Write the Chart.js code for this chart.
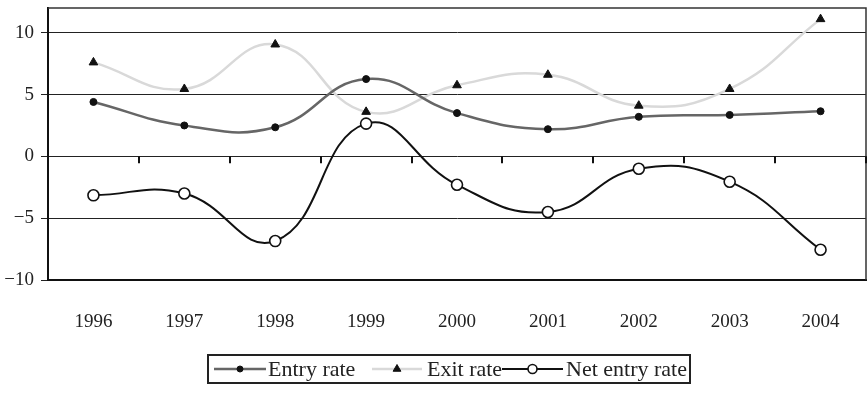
<!DOCTYPE html>
<html>
<head>
<meta charset="utf-8">
<script src="https://cdn.jsdelivr.net/npm/chart.js@4/dist/chart.umd.min.js"></script>
<style>
  html, body { margin: 0; padding: 0; background: #fff; }
  #wrap { width: 867px; height: 396px; }
</style>
</head>
<body>
<div id="wrap"><canvas id="c" width="867" height="396"></canvas></div>
<script>
// Years on the horizontal axis
const years = ['1996', '1997', '1998', '1999', '2000', '2001', '2002', '2003', '2004'];
// Rates (%) per year
const entryRate = [4.4, 2.5, 2.35, 6.25, 3.5, 2.2, 3.2, 3.35, 3.65];
const exitRate = [7.6, 5.45, 9.05, 3.6, 5.75, 6.6, 4.1, 5.45, 11.1];
const netEntryRate = [-3.15, -3.0, -6.85, 2.65, -2.3, -4.5, -1.0, -2.05, -7.55];
// Vertical axis ticks
const yTicks = [-10, -5, 0, 5, 10];
const seriesNames = ['Entry rate', 'Exit rate', 'Net entry rate'];

const FONT = '"Liberation Serif", "Times New Roman", serif';

// Frame, zero-line tick marks and boxed legend
const decorations = {
  id: 'decorations',
  afterDraw(chart) {
    const { ctx, chartArea: a, scales: { x, y } } = chart;
    ctx.save();
    // top and right edges of the plot box
    ctx.strokeStyle = '#333';
    ctx.lineWidth = 1.5;
    ctx.beginPath();
    ctx.moveTo(a.left, a.top);
    ctx.lineTo(a.right, a.top);
    ctx.lineTo(a.right, a.bottom);
    ctx.stroke();

    // category tick marks hanging from the zero line
    const y0 = y.getPixelForValue(0);
    ctx.strokeStyle = '#111';
    ctx.lineWidth = 2;
    const n = years.length;
    ctx.beginPath();
    for (let i = 0; i < n; i++) {
      const xb = i < n - 1 ? (x.getPixelForTick(i) + x.getPixelForTick(i + 1)) / 2 : a.right;
      ctx.moveTo(Math.round(xb), y0);
      ctx.lineTo(Math.round(xb), y0 + 7);
    }
    ctx.stroke();

    // legend box
    const box = { left: 208, top: 355, right: 690, bottom: 383 };
    ctx.strokeStyle = '#222';
    ctx.lineWidth = 2;
    ctx.strokeRect(box.left, box.top, box.right - box.left, box.bottom - box.top);
    const cy = (box.top + box.bottom) / 2;
    ctx.font = '22px ' + FONT;
    ctx.textBaseline = 'middle';
    const items = [
      { x0: 214, x1: 266, tx: 268 },
      { x0: 372, x1: 422, tx: 427 },
      { x0: 502, x1: 563, tx: 566 }
    ];
    chart.data.datasets.forEach((ds, i) => {
      const it = items[i];
      ctx.strokeStyle = ds.borderColor;
      ctx.lineWidth = ds.borderWidth;
      ctx.beginPath();
      ctx.moveTo(it.x0, cy);
      ctx.lineTo(it.x1, cy);
      ctx.stroke();
      ctx.fillStyle = ds.pointBackgroundColor;
      ctx.strokeStyle = ds.pointBorderColor;
      ctx.lineWidth = ds.pointBorderWidth;
      Chart.helpers.drawPoint(ctx, {
        pointStyle: ds.pointStyle,
        radius: ds.legendRadius,
        rotation: 0,
        borderWidth: ds.pointBorderWidth
      }, (it.x0 + it.x1) / 2, cy);
      ctx.fillStyle = '#222';
      ctx.fillText(ds.label, it.tx, cy + 1);
    });
    ctx.restore();
  }
};

new Chart(document.getElementById('c'), {
  type: 'line',
  data: {
    labels: years,
    datasets: [
      {
        label: seriesNames[0],
        data: entryRate,
        borderColor: '#666',
        borderWidth: 2.5,
        pointStyle: 'circle',
        pointRadius: 3.5,
        pointBackgroundColor: '#111',
        pointBorderColor: '#111',
        pointBorderWidth: 1,
        legendRadius: 3,
        tension: 0.45
      },
      {
        label: seriesNames[1],
        data: exitRate,
        borderColor: '#d9d9d9',
        borderWidth: 2.5,
        pointStyle: 'triangle',
        pointRadius: 5,
        pointBackgroundColor: '#111',
        pointBorderColor: '#111',
        pointBorderWidth: 1,
        legendRadius: 4.5,
        tension: 0.45
      },
      {
        label: seriesNames[2],
        data: netEntryRate,
        borderColor: '#111',
        borderWidth: 2,
        pointStyle: 'circle',
        pointRadius: 5.5,
        pointBackgroundColor: '#fff',
        pointBorderColor: '#111',
        pointBorderWidth: 1.6,
        legendRadius: 4.5,
        tension: 0.45
      }
    ]
  },
  options: {
    responsive: false,
    animation: false,
    devicePixelRatio: 1,
    layout: { autoPadding: false, padding: { top: 8, right: 1, bottom: 0, left: 0 } },
    plugins: {
      legend: { display: false },
      tooltip: { enabled: false }
    },
    scales: {
      x: {
        type: 'category',
        offset: true,
        grid: { display: false, drawTicks: false, tickLength: 0 },
        border: { display: true, color: '#111', width: 2 },
        ticks: {
          color: '#222',
          font: { family: FONT, size: 19 },
          padding: 31,
          maxRotation: 0,
          autoSkip: false
        },
        afterFit(scale) {
          scale.height = 116;
          scale.paddingLeft = 0;
          scale.paddingRight = 0;
        }
      },
      y: {
        min: -10,
        max: 12,
        grid: { color: '#222', lineWidth: 1, tickLength: 7, drawTicks: true },
        border: { display: true, color: '#111', width: 2 },
        afterBuildTicks(scale) { scale.ticks = yTicks.map(v => ({ value: v })); },
        ticks: {
          color: '#222',
          font: { family: FONT, size: 19 },
          padding: 7,
          callback: v => String(v).replace('-', '\u2212')
        },
        afterFit(scale) {
          scale.width = 48;
          scale.paddingTop = 0;
          scale.paddingBottom = 0;
        }
      }
    }
  },
  plugins: [decorations]
});
</script>
</body>
</html>
